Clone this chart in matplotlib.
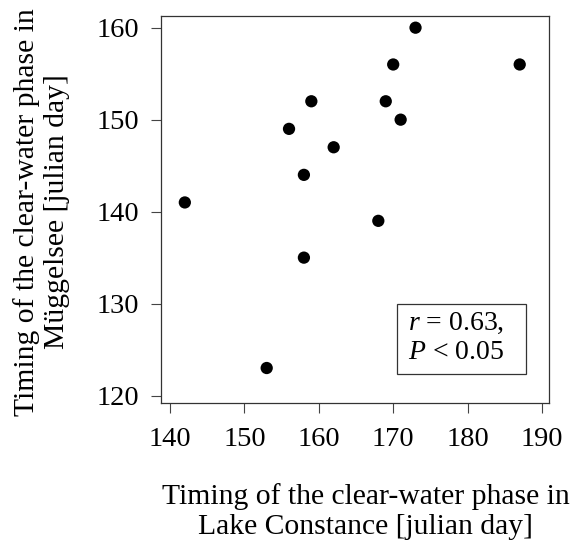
import matplotlib
matplotlib.use("Agg")
import matplotlib.pyplot as plt
from matplotlib.patches import Rectangle

# Timing of the clear-water phase (julian day)
lake_constance = [173, 170, 187, 159, 169, 171, 156, 162, 158, 142, 168, 158, 153]
mueggelsee = [160, 156, 156, 152, 152, 150, 149, 147, 144, 141, 139, 135, 123]

x_ticks = [140, 150, 160, 170, 180, 190]
y_ticks = [120, 130, 140, 150, 160]

plt.rcParams["font.family"] = ["Liberation Serif", "DejaVu Serif"]
plt.rcParams["mathtext.fontset"] = "custom"
plt.rcParams["mathtext.rm"] = "Liberation Serif"
plt.rcParams["mathtext.it"] = "Liberation Serif:italic"

fig = plt.figure(figsize=(5.71, 5.52), dpi=100)
ax = fig.add_axes([0.282, 0.270, 0.679, 0.7015])

ax.scatter(lake_constance, mueggelsee, s=78, color="black", edgecolors="none", zorder=3)

ax.set_xlim(138.8, 190.9)
ax.set_ylim(119.2, 161.3)
ax.set_xticks(x_ticks)
ax.set_yticks(y_ticks)
ax.tick_params(axis="both", direction="out", length=7, width=0.8, color="#444444",
               labelsize=20.5)
ax.tick_params(axis="x", pad=10)
ax.tick_params(axis="y", pad=9)
for sp in ax.spines.values():
    sp.set_linewidth(0.9)
    sp.set_color("#333333")

# statistics box
ax.add_patch(Rectangle((170.55, 122.3), 17.35, 7.7, facecolor="white",
                       edgecolor="#333333", linewidth=0.9, zorder=4))
ax.text(172.0, 126.3, "$r$ = 0.63,\n$P$ < 0.05", fontsize=20, ha="left", va="center",
        linespacing=1.2, zorder=5)

fig.text(42 / 571, 1 - 212 / 552, "Timing of the clear-water phase in\nMüggelsee [julian day]",
         rotation=90, ha="center", va="center", fontsize=21.3, linespacing=1.2,
         multialignment="center")
fig.text(366 / 571, 1 - 512 / 552, "Timing of the clear-water phase in\nLake Constance [julian day]",
         ha="center", va="center", fontsize=21.3, linespacing=1.2, multialignment="center")

fig.savefig("out.png", dpi=100)
